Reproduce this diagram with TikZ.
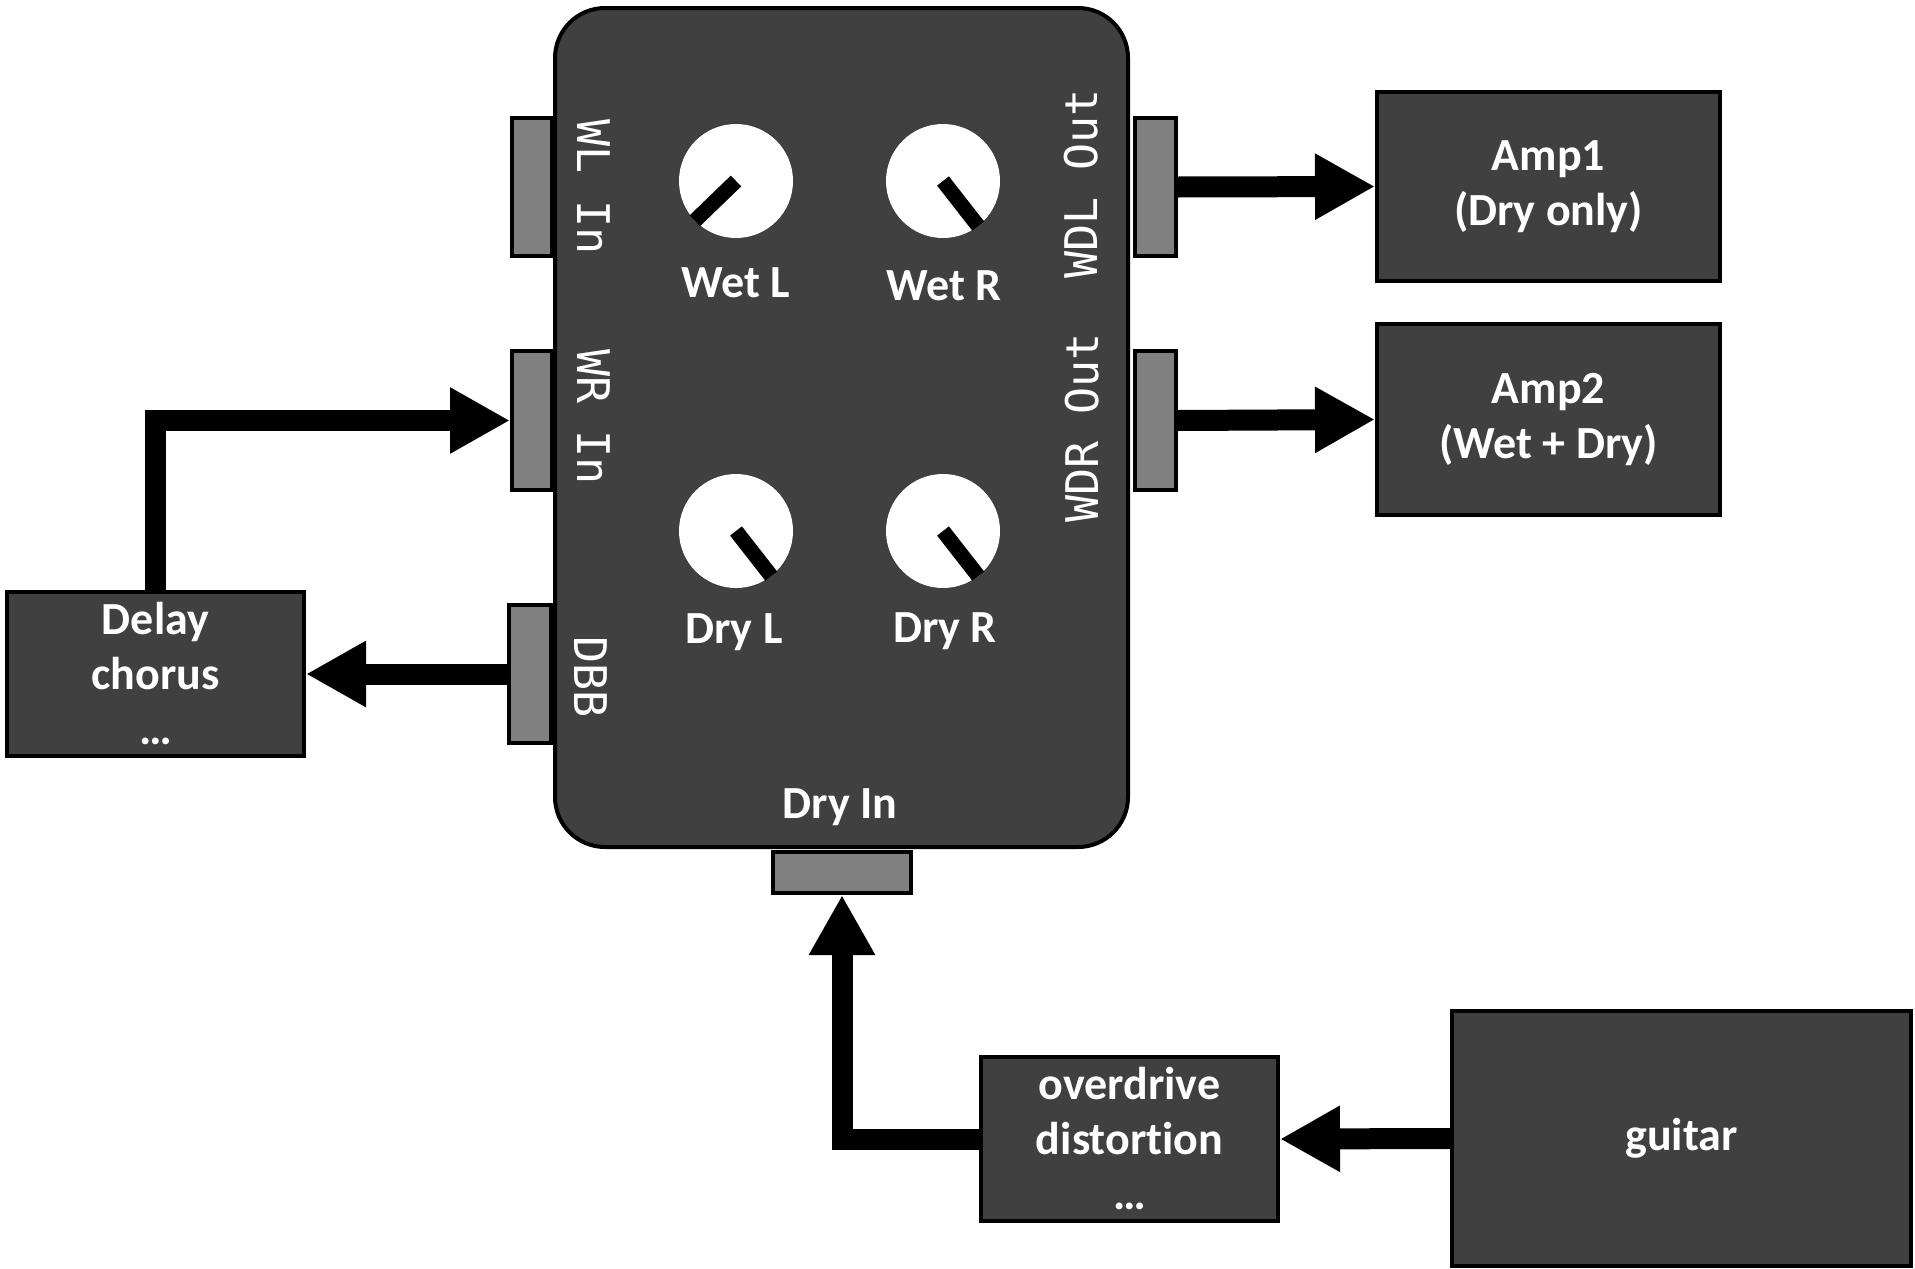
\documentclass[tikz,border=0pt]{standalone}
\usepackage{fontspec}
\setmainfont{Carlito}[Ligatures=NoCommon]
\newfontfamily\portfont{DejaVu Sans Mono}
\usetikzlibrary{arrows.meta}

\begin{document}
\begin{tikzpicture}[x=1pt,y=-1pt]
      \colorlet{pedalcolor}{black!75}
      \colorlet{jackcolor}{black!50}
      \tikzset{box/.style={draw=black,line width=4pt,fill=pedalcolor,text=white,inner sep=0pt,
          align=center,font=\fontsize{46}{55}\selectfont\bfseries}}
      \tikzset{jack/.style={draw=black,line width=4pt,fill=jackcolor,inner sep=0pt}}
      \tikzset{knob/.style={circle,fill=white,inner sep=0pt,minimum size=2*\kr}}
      \tikzset{knoblabel/.style={text=white,anchor=base,inner sep=0pt,font=\fontsize{46}{55}\selectfont\bfseries}}
      \tikzset{portlabel/.style={text=white,inner sep=0pt,font=\portfont\fontsize{45}{45}\selectfont}}
      \tikzset{signal/.style={line width=21pt,-{Triangle[length=60pt,width=62pt]}}}
      \pgfmathsetmacro{\kr}{57}

      \useasboundingbox (0,0) rectangle (1915,1269);

      % jacks round the pedal
      \node[jack,minimum width=40,minimum height=138] (wlin) at (532,187) {};
      \node[jack,minimum width=40,minimum height=139] (wrin) at (532,420.5) {};
      \node[jack,minimum width=42,minimum height=138] (dbb) at (530,674) {};
      \node[jack,minimum width=41,minimum height=138] (wdlout) at (1155.5,187) {};
      \node[jack,minimum width=41,minimum height=139] (wdrout) at (1155.5,420.5) {};
      \node[jack,minimum width=138,minimum height=41] (dryin) at (842,872.5) {};

      % the pedal
      \node[draw=black,line width=4pt,fill=pedalcolor,rounded corners=50pt,
          minimum width=573,minimum height=839] (pedal) at (841.5,427.5) {};

      \node[portlabel,rotate=-90] (wlintext) at (594,187) {WL In};
      \node[portlabel,rotate=-90] (wrintext) at (594,417) {WR In};
      \node[portlabel,rotate=-90] (dbbtext) at (591,677) {DBB};
      \node[portlabel,rotate=90] (wdltext) at (1081,184) {WDL Out};
      \node[portlabel,rotate=90] (wdrtext) at (1082,428) {WDR Out};

      % knobs
      \node[knob] (wetl) at (736,181) {};
      \node[knob] (wetr) at (943,181) {};
      \node[knob] (dryl) at (736,531) {};
      \node[knob] (dryr) at (943,531) {};
      \draw[line width=15pt] (wetl.center) -- (wetl.224);
      \draw[line width=15pt] (wetr.center) -- (wetr.-52);
      \draw[line width=15pt] (dryl.center) -- (dryl.-52);
      \draw[line width=15pt] (dryr.center) -- (dryr.-52);
      \node[knoblabel] (wetltext) at (736,297) {Wet L};
      \node[knoblabel] (wetrtext) at (944,300) {Wet R};
      \node[knoblabel] (dryltext) at (734,643) {Dry L};
      \node[knoblabel] (dryrtext) at (945,642) {Dry R};
      \node[knoblabel] (dryintext) at (840,818) {Dry In};

      % boxes
      \node[box,minimum width=343,minimum height=189] (amp1) at (1548.5,186.5) {Amp1\\(Dry only)};
      \node[box,minimum width=343,minimum height=191] (amp2) at (1548.5,419.5) {Amp2\\(Wet + Dry)};
      \node[box,minimum width=297,minimum height=164] (delay) at (155.5,674) {Delay\\chorus\\…};
      \node[box,minimum width=297,minimum height=164] (drive) at (1129.5,1139) {overdrive\\distortion\\…};
      \node[box,minimum width=459,minimum height=255] (guitar) at (1681.5,1138.5) {guitar};

      % signal path
      \draw[signal] (wdlout.east) -- (amp1.west);
      \draw[signal] (wdrout.east) -- (amp2.west);
      \draw[signal] (delay.north) |- (wrin.west);
      \draw[signal] (dbb.west) -- (delay.east);
      \draw[signal] (guitar.west) -- (drive.east);
      \draw[signal] (drive.west) -| (dryin.south);
\end{tikzpicture}
\end{document}
